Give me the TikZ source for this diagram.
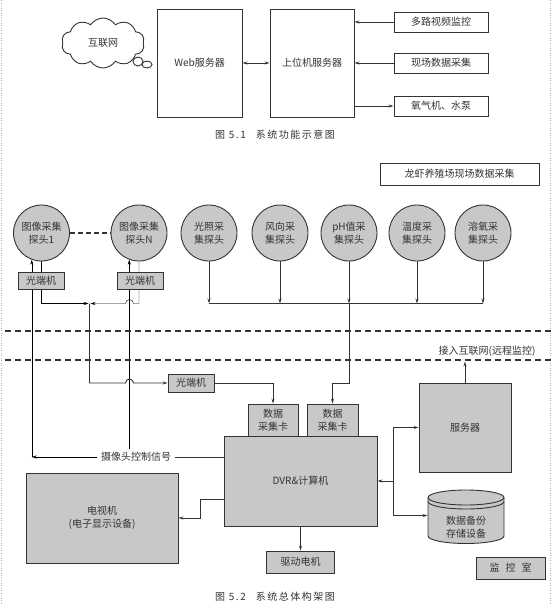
\documentclass[tikz,border=0pt]{standalone}
\usepackage{fontspec}
\setmainfont{Noto Sans CJK SC}
\newfontfamily\capfont[LetterSpace=15]{Noto Sans CJK SC}
\usetikzlibrary{arrows.meta,shapes.symbols,backgrounds}
\definecolor{ink}{HTML}{333333}
\definecolor{boxgray}{HTML}{C8C8C8}
\tikzset{
  wbox/.style={draw,fill=white,inner sep=0pt},
  gbox/.style={draw,fill=boxgray,inner sep=0pt,align=center},
  probe/.style={circle,draw,fill=boxgray,minimum size=56pt,inner sep=0pt,align=center},
}
\begin{document}
\begin{tikzpicture}[x=1pt,y=-1pt,color=ink,line width=0.9pt,>={Stealth[length=5pt,width=3pt]},font=\fontsize{10}{13}\selectfont]
\useasboundingbox (0,0) rectangle (552,605);
\draw[gray!60,dotted,line width=0.5pt] (1,0) -- (1,605) (550,0) -- (550,605);

\node[cloud,draw,cloud puffs=10,cloud puff arc=115,aspect=1.6,minimum width=83pt,minimum height=50pt,inner sep=0pt] (net) at (103,43) {互联网};
\draw (138,61.5) ellipse[x radius=5pt,y radius=4.5pt];
\draw (147,64.5) ellipse[x radius=5pt,y radius=3.5pt];
\node[wbox,minimum width=85pt,minimum height=108pt] (web) at (199.5,63) {Web服务器};
\node[wbox,minimum width=84pt,minimum height=108pt] (host) at (312,63) {上位机服务器};
\draw[<->] (web) -- (host);
\foreach \n/\y/\t in {vid/22/多路视频监控,dat/63/现场数据采集,pump/106/氧气机、水泵}
  \node[wbox,minimum width=94pt,minimum height=20pt] (\n) at (441,\y) {\t};
\draw[->] (vid) -- (vid -| host.east);
\draw[->] (dat) -- (dat -| host.east);
\draw[->] (pump -| host.east) -- (pump);
\node[font=\capfont] (cap1) at (275,135) {图 5.1\quad 系统功能示意图};

\node[wbox,minimum width=159pt,minimum height=22pt] (site) at (459.5,174) {龙虾养殖场现场数据采集};
\node[probe] (cam1) at (41.5,233) {图像采集\\探头1};
\node[probe] (camN) at (139,233) {图像采集\\探头N};
\draw[dash pattern=on 5pt off 3pt,line width=1.3pt] (cam1) -- (camN);
\coordinate (bus) at (0,303.5);
\coordinate (jn) at (89.5,303.5);
\foreach \n/\x/\t in {light/209/光照采,wind/280/风向采,ph/349/pH值采,temp/417/温度采,oxy/483/溶氧采}{
  \node[probe] (\n) at (\x,233) {\t\\集探头};
  \draw[->] (\n.south) -- (\n.south |- bus);
}
\draw (light.south |- bus) -- (oxy.south |- bus);

\node[gbox,minimum width=46pt,minimum height=17pt] (oe1) at (41,281) {光端机};
\node[gbox,minimum width=46pt,minimum height=17pt] (oeN) at (140,281) {光端机};
\node[gbox,minimum width=46pt,minimum height=18pt] (oem) at (191,383) {光端机};
\node[gbox,minimum width=50pt,minimum height=32pt] (card1) at (273,420) {数据\\采集卡};
\node[gbox,minimum width=51pt,minimum height=32pt] (card2) at (332.5,420) {数据\\采集卡};
\node[gbox,minimum width=153pt,minimum height=90pt] (dvr) at (300.5,481) {DVR\&计算机};
\node[gbox,minimum width=152pt,minimum height=90pt] (tv) at (102,518) {电视机\\(电子显示设备)};
\node[gbox,minimum width=68pt,minimum height=22pt] (motor) at (300.5,562) {驱动电机};
\node[gbox,minimum width=92pt,minimum height=89pt] (srv) at (465,427.5) {服务器};
\node[gbox,minimum width=69pt,minimum height=22pt] (room) at (510.5,568) {监\hspace{6pt}控\hspace{6pt}室};
\node (sig) at (136,457) {摄像头控制信号};
\node (inet) at (487,351) {接入互联网(远程监控)};

\begin{scope}[on background layer]
\draw[->] (cam1.south) |- ([xshift=-1pt]jn);
\draw[->] (camN.south) -- (camN.south |- jn) -- (133.5,303.5) arc[start angle=0,end angle=180,radius=4pt] -- ([xshift=1pt]jn);
\draw[->] (sig.west) -- (cam1.250 |- sig);
\draw[->] (cam1.250 |- sig) -- (cam1.250);
\draw[->] (camN.250 |- sig.north) -- (camN.250);
\end{scope}
\draw[->] (jn) -- (89.5,383) -- (125.5,383) arc[start angle=180,end angle=0,radius=4pt] -- (oem.west);
\draw[->] (oem.east) -| (card1.north);
\draw[->] (ph.south |- bus) -- (ph.south |- oem) -| (card2.north);
\draw (dvr.west |- sig) -- (sig.east);
\draw[->] ([yshift=-18pt]dvr.west) -- (200,499) |- (tv.east);
\draw[->] (dvr.south) -- (motor.north);
\draw[->] (srv.north) -- ++(0,-21);
\draw[dash pattern=on 6pt off 4pt,line width=1.2pt] (5,331) -- (552,331) (5,360) -- (552,360);

\draw[fill=boxgray] (428,497.5) -- (428,536) arc[start angle=180,end angle=360,x radius=38pt,y radius=7.5pt] -- (504,497.5) arc[start angle=0,end angle=180,x radius=38pt,y radius=7.5pt] -- cycle;
\draw (428,497.5) arc[start angle=180,end angle=360,x radius=38pt,y radius=7.5pt];
\draw (428,501.5) arc[start angle=180,end angle=360,x radius=38pt,y radius=7.5pt];
\node[minimum width=76pt,minimum height=53pt,align=center] (bak) at (466,527.5) {数据备份\\存储设备};
\coordinate (hub) at (393,481);
\draw[->] (hub) -- (dvr.east);
\draw[->] (hub) |- (srv.west);
\draw[->] (hub) |- ([yshift=12pt]bak.west);
\node[font=\capfont] (cap2) at (275,597) {图 5.2\quad 系统总体构架图};
\end{tikzpicture}
\end{document}
